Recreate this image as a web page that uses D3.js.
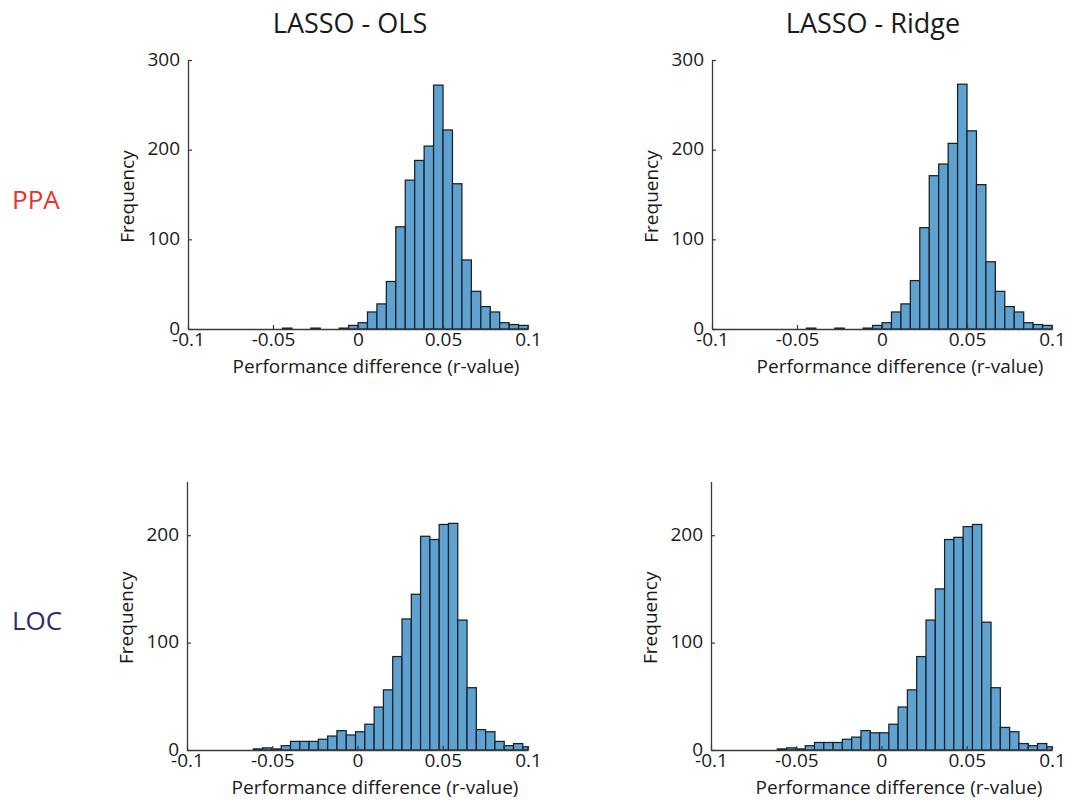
<!DOCTYPE html>
<html>
<head>
<meta charset="utf-8">
<script src="https://cdn.jsdelivr.net/npm/d3@7"></script>
<style>
  html, body { margin: 0; padding: 0; background: #fff; }
  svg { display: block; font-family: "Open Sans", "Noto Sans", sans-serif; }
</style>
</head>
<body>
<svg id="chart" width="1069" height="800"></svg>
<script>
// ---------------- DATA ----------------
const columnTitles = ["LASSO - OLS", "LASSO - Ridge"];
const rowLabels = ["PPA", "LOC"];
const xTicks = [-0.1, -0.05, 0, 0.05, 0.1];
const xTickLabels = ["-0.1", "-0.05", "0", "0.05", "0.1"];
const yTicksTop = [0, 100, 200, 300];
const yTicksBottom = [0, 100, 200];
const xLabel = "Performance difference (r-value)";
const yLabel = "Frequency";

// bin definitions (r-value units)
const topBinStart = -0.1;
const topBinWidth = 0.005556;
const bottomBinStart = -0.0611;
const bottomBinWidth = 0.00545;

// counts per bin
const ppaOls   = [0,0,0,0,0,0,0,0,0,0,1,0,0,1,0,0,1,4,7,19,28,53,114,166,188,204,272,222,162,77,42,25,19,7,5,4];
const ppaRidge = [0,0,0,0,0,0,0,0,0,0,1,0,0,1,0,0,1,4,7,19,28,54,113,171,184,207,273,221,161,75,42,25,19,7,5,4];
const locOls   = [1,2,1,4,8,8,8,10,13,18,14,17,24,40,56,87,122,145,199,196,210,211,121,58,19,17,8,4,6,3];
const locRidge = [1,2,1,4,7,7,7,10,12,18,16,16,24,40,56,87,121,150,196,198,208,210,119,58,21,17,6,4,6,3];

const yMaxTop = 300;
const yMaxBottom = 250;

// ---------------- LAYOUT ----------------
const svg = d3.select("#chart");
const axisColor = "#3a3a3a";
const barFill = "#5fa2d0";
const textColor = "#1a1a1a";
const tickFont = 19;
const labelFont = 19;

const panels = [
  { counts: ppaOls,   start: topBinStart,    width: topBinWidth,    yMax: yMaxTop,    yTicks: yTicksTop,    x0: 188, x1: 528,  yB: 329, yT: 60 },
  { counts: ppaRidge, start: topBinStart,    width: topBinWidth,    yMax: yMaxTop,    yTicks: yTicksTop,    x0: 712, x1: 1052, yB: 329, yT: 60 },
  { counts: locOls,   start: bottomBinStart, width: bottomBinWidth, yMax: yMaxBottom, yTicks: yTicksBottom, x0: 187, x1: 528,  yB: 750, yT: 481.5 },
  { counts: locRidge, start: bottomBinStart, width: bottomBinWidth, yMax: yMaxBottom, yTicks: yTicksBottom, x0: 711, x1: 1052, yB: 750, yT: 481.5 }
];

panels.forEach(p => {
  const x = d3.scaleLinear().domain([-0.1, 0.1]).range([p.x0, p.x1]);
  const y = d3.scaleLinear().domain([0, p.yMax]).range([p.yB, p.yT]);
  const g = svg.append("g");

  const bins = p.counts.map((c, i) => ({
    lo: p.start + i * p.width,
    hi: Math.min(p.start + (i + 1) * p.width, 0.1),
    c
  })).filter(b => b.c > 0);

  g.selectAll("rect.bar").data(bins).join("rect")
    .attr("class", "bar")
    .attr("x", d => x(d.lo))
    .attr("width", d => x(d.hi) - x(d.lo))
    .attr("y", d => y(d.c))
    .attr("height", d => y(0) - y(d.c))
    .attr("fill", barFill)
    .attr("stroke", "#15222c")
    .attr("stroke-width", 1.25);

  // x axis (ticks inward)
  const xAxis = d3.axisBottom(x).tickValues(xTicks)
    .tickFormat((d, i) => xTickLabels[i]).tickSizeInner(-4).tickSizeOuter(0).tickPadding(7);
  const gx = g.append("g").attr("transform", `translate(0,${p.yB})`).call(xAxis);
  gx.select(".domain").attr("stroke", axisColor).attr("stroke-width", 1.3);
  gx.selectAll(".tick line").attr("stroke", axisColor).attr("stroke-width", 1.2);
  gx.selectAll(".tick text").attr("font-size", tickFont).attr("fill", textColor)
    .attr("font-family", "'Open Sans', sans-serif").attr("dy", "0.5em");

  // y axis (ticks inward)
  const yAxis = d3.axisLeft(y).tickValues(p.yTicks).tickFormat(d3.format("d"))
    .tickSizeInner(-4).tickSizeOuter(0).tickPadding(8);
  const gy = g.append("g").attr("transform", `translate(${p.x0},0)`).call(yAxis);
  gy.select(".domain").attr("stroke", axisColor).attr("stroke-width", 1.3);
  gy.selectAll(".tick line").attr("stroke", axisColor).attr("stroke-width", 1.2);
  gy.selectAll(".tick text").attr("font-size", tickFont).attr("fill", textColor)
    .attr("font-family", "'Open Sans', sans-serif").attr("dy", "0.28em");

  // axis labels
  g.append("text")
    .attr("x", p.x0 + 188)
    .attr("y", p.yB + 44)
    .attr("text-anchor", "middle")
    .attr("font-size", labelFont)
    .attr("fill", textColor)
    .text(xLabel);

  g.append("text")
    .attr("transform", `translate(${p.x0 - 54},${(p.yB + p.yT) / 2 + 2}) rotate(-90)`)
    .attr("text-anchor", "middle")
    .attr("font-size", labelFont)
    .attr("fill", textColor)
    .text(yLabel);
});

// column titles
const titleX = [350, 873];
svg.selectAll("text.coltitle").data(columnTitles).join("text")
  .attr("class", "coltitle")
  .attr("x", (d, i) => titleX[i])
  .attr("y", 33)
  .attr("text-anchor", "middle")
  .attr("font-size", 27)
  .attr("fill", textColor)
  .text(d => d);

// row labels
const rowY = [209, 630];
const rowColors = ["#e3342f", "#2f2c6e"];
svg.selectAll("text.rowlabel").data(rowLabels).join("text")
  .attr("class", "rowlabel")
  .attr("x", 12)
  .attr("y", (d, i) => rowY[i])
  .attr("font-size", 26)
  .attr("fill", (d, i) => rowColors[i])
  .text(d => d);
</script>
</body>
</html>
